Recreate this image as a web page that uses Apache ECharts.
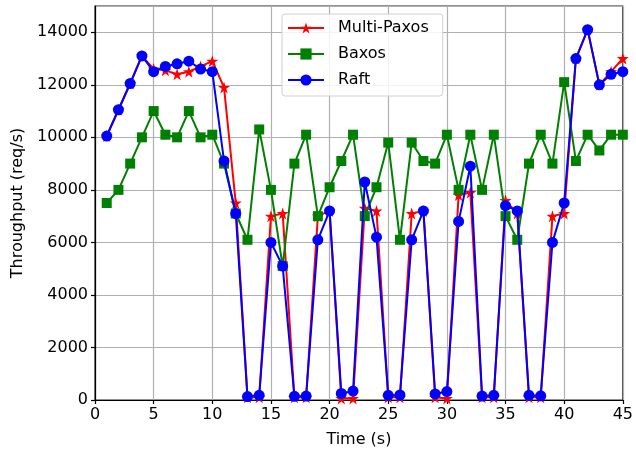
<!DOCTYPE html>
<html>
<head>
<meta charset="utf-8">
<script src="https://cdn.jsdelivr.net/npm/echarts@6/dist/echarts.min.js"></script>
<style>html,body{margin:0;padding:0;background:#fff}#c{width:636px;height:453px}</style>
</head>
<body>
<div id="c"></div>
<script>
const time = [1,2,3,4,5,6,7,8,9,10,11,12,13,14,15,16,17,18,19,20,21,22,23,24,25,26,27,28,29,30,31,32,33,34,35,36,37,38,39,40,41,42,43,44,45];
const multiPaxos = [10050,11050,12050,13100,12600,12550,12400,12500,12700,12900,11900,7500,100,100,7000,7100,100,100,7000,7200,60,60,7300,7200,100,100,7100,7200,100,60,7800,7900,100,100,7600,7100,100,100,7000,7100,13000,14100,12000,12500,13000];
const baxos = [7500,8000,9000,10000,11000,10100,10000,11000,10000,10100,9000,7100,6100,10300,8000,5100,9000,10100,7000,8100,9100,10100,7000,8100,9800,6100,9800,9100,9000,10100,8000,10100,8000,10100,7000,6100,9000,10100,9000,12100,9100,10100,9500,10100,10100];
const raft = [10050,11050,12050,13100,12500,12700,12800,12900,12600,12500,9100,7100,130,180,6000,5100,140,150,6100,7200,250,340,8300,6200,180,190,6100,7200,230,320,6800,8900,150,180,7400,7200,180,160,6000,7500,13000,14100,12000,12400,12500];
const xTicks = {min:0, max:45, interval:5};
const yTicks = {min:0, max:15000, interval:2000};

const STAR = 'path://M50,0 L61.2,34.5 L97.6,34.5 L68.2,55.9 L79.4,90.5 L50,69.1 L20.6,90.5 L31.8,55.9 L2.4,34.5 L38.8,34.5 Z';
const pair = (ys) => time.map((t,i)=>[t, ys[i]]);
const FONT = 'DejaVu Sans';

const chart = echarts.init(document.getElementById('c'), null, {renderer:'canvas'});
chart.setOption({
  animation: false,
  backgroundColor: '#fff',
  textStyle: {fontFamily: FONT},
  grid: {left: 95, top: 6, width: 532, height: 395, show: true, borderColor: '#222', borderWidth: 1.2, containLabel: false},
  legend: {
    orient: 'vertical', left: 282, top: 14,
    padding: [6, 14, 8, 5], itemGap: 10, itemWidth: 36, itemHeight: 14,
    backgroundColor: 'rgba(255,255,255,0.85)', borderColor: '#d0d0d0', borderWidth: 1, borderRadius: 3,
    textStyle: {fontFamily: FONT, fontSize: 16, color: '#000', padding: [0,0,0,9]},
    data: ['Multi-Paxos','Baxos','Raft']
  },
  xAxis: {
    type: 'value', min: xTicks.min, max: xTicks.max, interval: xTicks.interval,
    name: 'Time (s)', nameLocation: 'middle', nameGap: 32,
    nameTextStyle: {fontFamily: FONT, fontSize: 16, color: '#000'},
    axisLine: {show: true, onZero: false, lineStyle: {color: '#000', width: 1.2}},
    axisTick: {show: true, length: 4, lineStyle: {color: '#000', width: 1.2}},
    axisLabel: {fontFamily: FONT, fontSize: 16, color: '#000', margin: 7},
    splitLine: {show: true, lineStyle: {color: '#b0b0b0', width: 1.2}}
  },
  yAxis: {
    type: 'value', min: yTicks.min, max: yTicks.max, interval: yTicks.interval,
    name: 'Throughput (req/s)', nameLocation: 'middle', nameGap: 68,
    nameTextStyle: {fontFamily: FONT, fontSize: 16, color: '#000'},
    axisLine: {show: true, onZero: false, lineStyle: {color: '#000', width: 1.2}},
    axisTick: {show: true, length: 4, lineStyle: {color: '#000', width: 1.2}},
    axisLabel: {fontFamily: FONT, fontSize: 16, color: '#000', margin: 7, showMaxLabel: false,
                formatter: (v) => String(v)},
    splitLine: {show: true, lineStyle: {color: '#b0b0b0', width: 1.2}}
  },
  series: [
    {name: 'Multi-Paxos', type: 'line', data: pair(multiPaxos), symbol: STAR, symbolSize: 12,
     color: '#ff0000', lineStyle: {width: 2, color: '#ff0000'}, itemStyle: {color: '#ff0000'}, clip: true, z: 2},
    {name: 'Baxos', type: 'line', data: pair(baxos), symbol: 'rect', symbolSize: 10,
     color: '#008000', lineStyle: {width: 2, color: '#008000'}, itemStyle: {color: '#008000'}, clip: true, z: 3},
    {name: 'Raft', type: 'line', data: pair(raft), symbol: 'circle', symbolSize: 11,
     color: '#0000ff', lineStyle: {width: 2, color: '#0000ff'}, itemStyle: {color: '#0000ff'}, clip: true, z: 4}
  ]
});
</script>
</body>
</html>
